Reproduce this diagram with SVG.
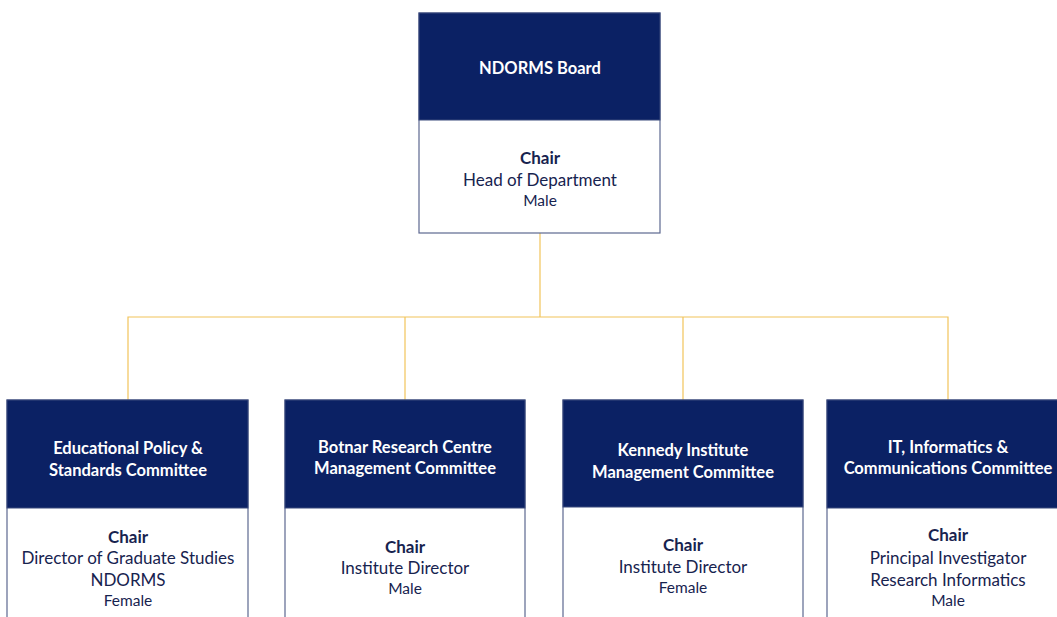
<svg xmlns="http://www.w3.org/2000/svg" width="1057" height="617" viewBox="0 0 1057 617">
<style>
.hd{fill:#0b2164;stroke:#3b4a7c;stroke-width:1}
.bd{fill:#ffffff;stroke:#5d6890;stroke-width:1.2}
.ht{font-family:Lato,"Liberation Sans",sans-serif;font-weight:bold;font-size:16.5px;fill:#ffffff;text-anchor:middle}
.b{font-family:Lato,"Liberation Sans",sans-serif;font-weight:bold;font-size:17px;fill:#17234f;text-anchor:middle}
.t{font-family:Lato,"Liberation Sans",sans-serif;font-size:17px;fill:#17234f;text-anchor:middle}
.s{font-family:Lato,"Liberation Sans",sans-serif;font-size:15.5px;fill:#17234f;text-anchor:middle}
.c{fill:none;stroke:#f2c45a;stroke-width:1.2}
</style>
<rect width="1057" height="617" fill="#ffffff"/>
<g id="connectors">
<path class="c" d="M540 233V317"/>
<path class="c" d="M128 400V317H948V400"/>
<path class="c" d="M405 317V400"/>
<path class="c" d="M683 317V400"/>
</g>
<g id="board">
<rect class="bd" x="419" y="13" width="241" height="220"/>
<rect class="hd" x="419" y="13" width="241" height="107"/>
<text class="ht" x="540" y="74">NDORMS Board</text>
<text class="b" x="540" y="164">Chair</text>
<text class="t" x="540" y="186">Head of Department</text>
<text class="s" x="540" y="206">Male</text>
</g>
<g id="edu">
<rect class="bd" x="7" y="400" width="241" height="230"/>
<rect class="hd" x="7" y="400" width="241" height="108"/>
<text class="ht" x="128" y="454">Educational Policy &amp;</text>
<text class="ht" x="128" y="476">Standards Committee</text>
<text class="b" x="128" y="543">Chair</text>
<text class="t" x="128" y="564">Director of Graduate Studies</text>
<text class="t" x="128" y="586">NDORMS</text>
<text class="s" x="128" y="606">Female</text>
</g>
<g id="botnar">
<rect class="bd" x="285" y="400" width="240" height="230"/>
<rect class="hd" x="285" y="400" width="240" height="108"/>
<text class="ht" x="405" y="453">Botnar Research Centre</text>
<text class="ht" x="405" y="474">Management Committee</text>
<text class="b" x="405" y="553">Chair</text>
<text class="t" x="405" y="574">Institute Director</text>
<text class="s" x="405" y="594">Male</text>
</g>
<g id="kennedy">
<rect class="bd" x="563" y="400" width="240" height="230"/>
<rect class="hd" x="563" y="400" width="240" height="107"/>
<text class="ht" x="683" y="456">Kennedy Institute</text>
<text class="ht" x="683" y="478">Management Committee</text>
<text class="b" x="683" y="551">Chair</text>
<text class="t" x="683" y="573">Institute Director</text>
<text class="s" x="683" y="593">Female</text>
</g>
<g id="it">
<rect class="bd" x="827" y="400" width="242" height="230"/>
<rect class="hd" x="827" y="400" width="242" height="108"/>
<text class="ht" x="948" y="453">IT, Informatics &amp;</text>
<text class="ht" x="948" y="474">Communications Committee</text>
<text class="b" x="948" y="541">Chair</text>
<text class="t" x="948" y="564">Principal Investigator</text>
<text class="t" x="948" y="586">Research Informatics</text>
<text class="s" x="948" y="606">Male</text>
</g>
</svg>
